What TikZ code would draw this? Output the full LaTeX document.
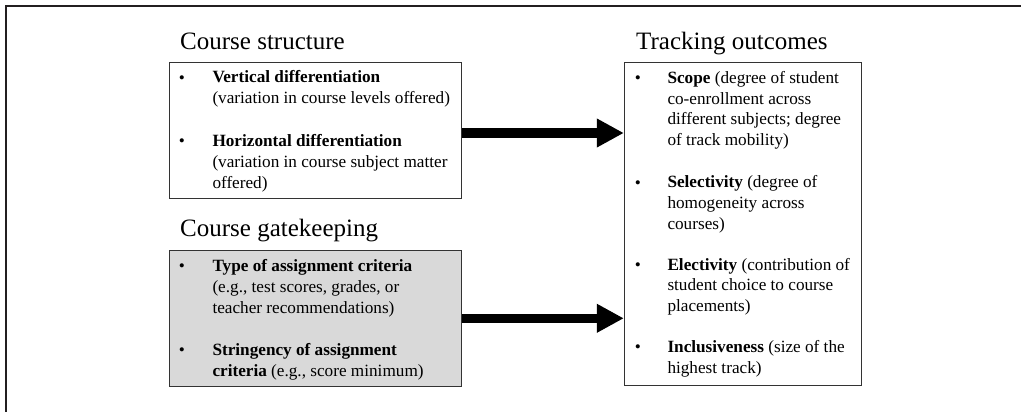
\documentclass[tikz,border=0pt]{standalone}
\usepackage{fontspec}
\setmainfont{Liberation Serif}
\usetikzlibrary{arrows.meta}
\definecolor{boxgrey}{HTML}{D9D9D9}
\definecolor{framecol}{HTML}{231F20}
\begin{document}
\begin{tikzpicture}[x=1pt,y=-1pt,
  box/.style={draw=black!80,line width=0.9pt,inner sep=0pt},
  title/.style={anchor=base west,inner sep=0pt,font=\fontsize{25}{30}\selectfont},
  item/.style={anchor=base west,inner sep=0pt,align=left,font=\fontsize{17.2}{20.8}\selectfont},
  bul/.style={anchor=base west,inner sep=0pt,font=\fontsize{17.2}{20.8}\selectfont},
  bigarrow/.style={line width=9.5pt,-{Triangle[length=27pt,width=27pt]}}]
\useasboundingbox (0,0) rectangle (1021,412);
% outer frame (only top and left visible)
\draw[framecol,line width=2.4pt] (5.8,412) -- (5.8,6) -- (1021,6);
% boxes
\node[box,fill=white,minimum width=292.7pt,minimum height=136pt] (s) at (315.3,130) {};
\node[box,fill=boxgrey,minimum width=292.7pt,minimum height=135.3pt] (g) at (315.3,318.3) {};
\node[box,fill=white,minimum width=237.4pt,minimum height=323.4pt] (o) at (743,224) {};
% titles
\node[title] (ts) at (180,50) {Course structure};
\node[title] (tg) at (180,236.7) {Course gatekeeping};
\node[title] (to) at (636,50) {Tracking outcomes};
% course structure items (item nodes placed by the baseline of their last line)
\node[bul] (sb1) at (178.7,83.3) {•};
\node[item] (si1) at (212.3,103.6) {\textbf{Vertical differentiation}\\(variation in course levels offered)};
\node[bul] (sb2) at (178.7,146.7) {•};
\node[item] (si2) at (212.3,188) {\textbf{Horizontal differentiation}\\(variation in course subject matter\\offered)};
% gatekeeping items
\node[bul] (gb1) at (178.7,271.7) {•};
\node[item] (gi1) at (212.3,313.3) {\textbf{Type of assignment criteria}\\(e.g., test scores, grades, or\\teacher recommendations)};
\node[bul] (gb2) at (178.7,355) {•};
\node[item] (gi2) at (212.3,376) {\textbf{Stringency of assignment}\\\textbf{criteria} (e.g., score minimum)};
% outcome items
\node[bul] (ob1) at (634.7,83.3) {•};
\node[item] (oi1) at (667.3,145.7) {\textbf{Scope} (degree of student\\co-enrollment across\\different subjects; degree\\of track mobility)};
\node[bul] (ob2) at (634.7,188.3) {•};
\node[item] (oi2) at (667.3,229.5) {\textbf{Selectivity} (degree of\\homogeneity across\\courses)};
\node[bul] (ob3) at (634.7,270) {•};
\node[item] (oi3) at (667.3,311.7) {\textbf{Electivity} (contribution of\\student choice to course\\placements)};
\node[bul] (ob4) at (634.7,352.7) {•};
\node[item] (oi4) at (667.3,373.5) {\textbf{Inclusiveness} (size of the\\highest track)};
% arrows
\draw[bigarrow] ([yshift=-3pt]s.east) -- ([yshift=-3pt]s.east -| o.west);
\draw[bigarrow] (g.east) -- (g.east -| o.west);
\end{tikzpicture}
\end{document}
